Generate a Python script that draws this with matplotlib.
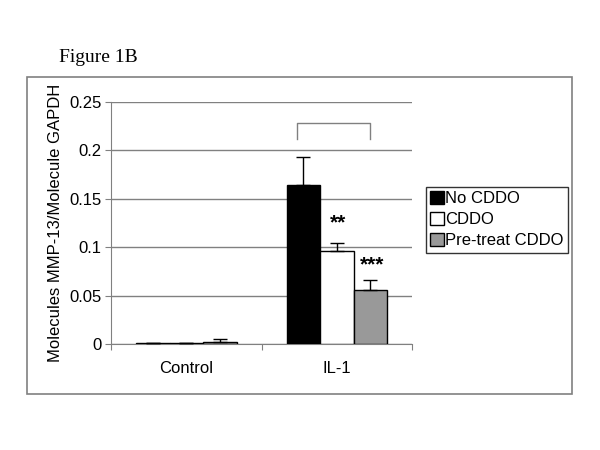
import matplotlib
matplotlib.use("Agg")
import matplotlib.pyplot as plt
import numpy as np
from matplotlib.patches import Rectangle

categories = ["Control", "IL-1"]
series_names = ["No CDDO", "CDDO", "Pre-treat CDDO"]
no_cddo = [0.001, 0.164]
cddo = [0.001, 0.096]
pretreat = [0.0025, 0.056]
no_cddo_err = [0.0, 0.029]
cddo_err = [0.0, 0.008]
pretreat_err = [0.0025, 0.010]
yticks = [0, 0.05, 0.1, 0.15, 0.2, 0.25]
ytick_labels = ["0", "0.05", "0.1", "0.15", "0.2", "0.25"]
star_labels = ["**", "***"]

plt.rcParams['font.family'] = ['Liberation Sans', 'DejaVu Sans']

fig = plt.figure(figsize=(6, 4.5), dpi=100)
fig.patch.set_facecolor('white')

# outer chart border
fig.patches.append(Rectangle((27/600, 1-394/450), (572-27)/600, (394-77)/450,
                             transform=fig.transFigure, fill=False,
                             edgecolor='#808080', lw=1.2))
fig.text(59/600, 1-58/450, "Figure 1B", family=['Liberation Serif'], fontsize=14,
         va='center', ha='left')

ax = fig.add_axes([111/600, 1-344/450, (412-111)/600, (344-102)/450])
x = np.arange(len(categories))
w = 33.5/150.5
colors = ['black', 'white', '#999999']
vals = [no_cddo, cddo, pretreat]
errs = [no_cddo_err, cddo_err, pretreat_err]
for i, (v, e, c, n) in enumerate(zip(vals, errs, colors, series_names)):
    pos = x + (i-1)*w
    ax.bar(pos, v, width=w, color=c, edgecolor='black', lw=1, label=n, zorder=3)
    ax.errorbar(pos, v, yerr=[np.zeros(len(e)), e], fmt='none', ecolor='black',
                elinewidth=1, capsize=5, capthick=1, zorder=4)

ax.set_xlim(-0.5, 1.5)
ax.set_ylim(0, 0.25)
ax.set_yticks(yticks)
ax.set_yticklabels(ytick_labels, fontsize=12)
ax.yaxis.grid(True, color='#808080', lw=1, zorder=0)
ax.set_axisbelow(True)
ax.set_xticks([-0.5, 0.5, 1.5])
ax.set_xticklabels([])
ax.set_xticks(x, minor=True)
ax.set_xticklabels(categories, minor=True, fontsize=12)
ax.tick_params(axis='x', which='minor', length=0, pad=12)
ax.tick_params(axis='x', which='major', length=4, color='#808080', direction='out')
ax.tick_params(axis='y', length=4, color='#808080', direction='out', pad=3)
for s in ['top', 'right']:
    ax.spines[s].set_visible(False)
for s in ['left', 'bottom']:
    ax.spines[s].set_color('#808080')
ax.set_ylabel("Molecules MMP-13/Molecule GAPDH", fontsize=12, labelpad=4)

# bracket
bx0 = x[1] - w - 0.04
bx1 = x[1] + w
ax.plot([bx0, bx0, bx1, bx1], [0.2115, 0.2286, 0.2286, 0.2115], color='#808080',
        lw=1, zorder=5, clip_on=False)
# stars
ax.text(x[1] + 0.01, 0.127, star_labels[0], ha='center', va='center_baseline',
        fontsize=15, fontweight='bold')
ax.text(x[1] + w + 0.012, 0.084, star_labels[1], ha='center', va='center_baseline',
        fontsize=15, fontweight='bold')

leg = ax.legend(loc='upper left', bbox_to_anchor=(426/600, 1-187/450),
                bbox_transform=fig.transFigure, frameon=True, fancybox=False,
                edgecolor='black', fontsize=12, handlelength=0.8, handleheight=0.8,
                handletextpad=0.1, borderpad=0.25, labelspacing=0.35,
                borderaxespad=0)
leg.get_frame().set_linewidth(1)

fig.savefig("out.png", dpi=100)
